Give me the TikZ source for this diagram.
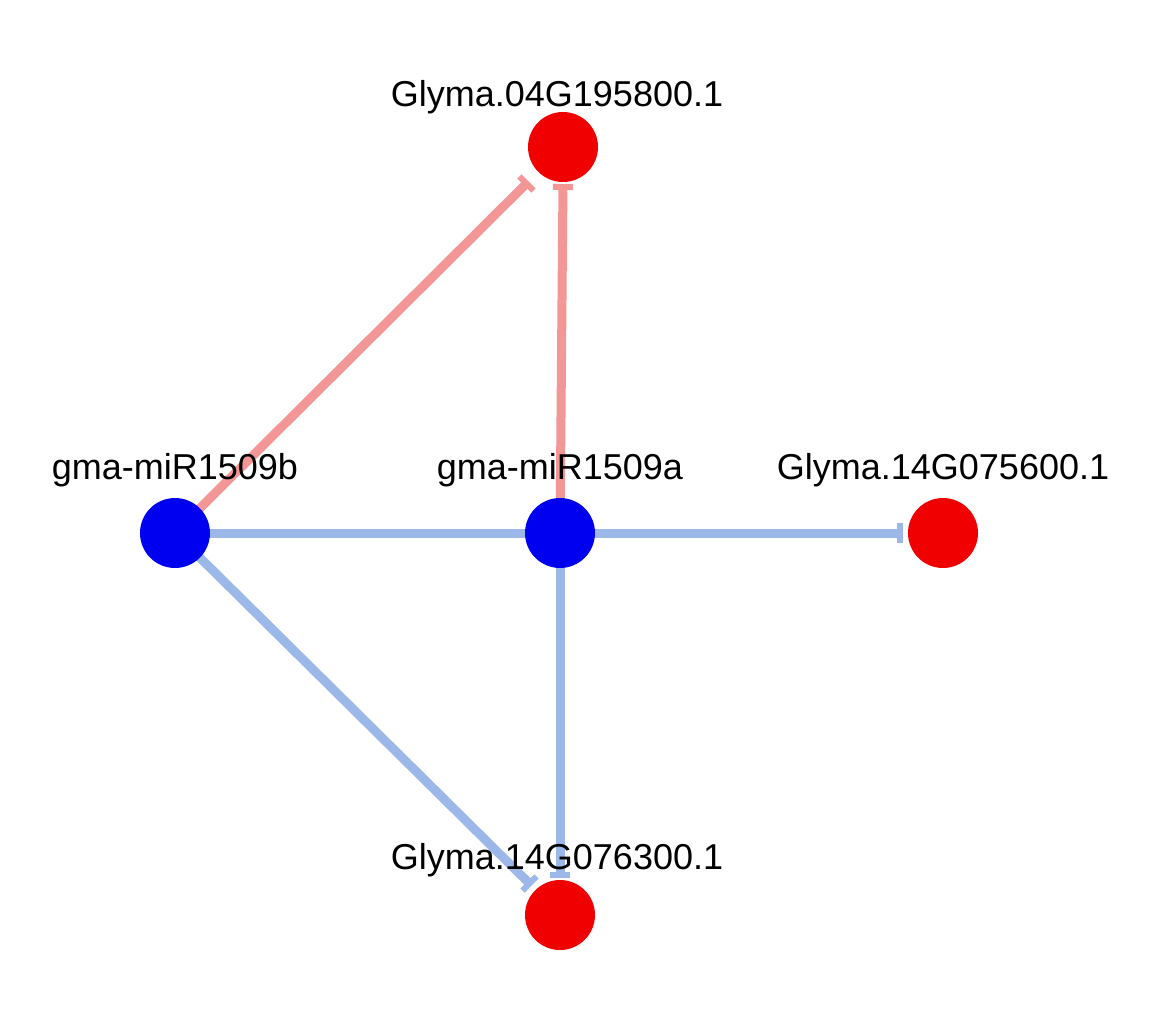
\documentclass[tikz,border=0pt]{standalone}
\usepackage{fontspec}
\setmainfont{Liberation Sans}
\usetikzlibrary{arrows.meta}
\begin{document}
\begin{tikzpicture}[x=1pt,y=-1pt,
  mi/.style={circle,fill={rgb,255:red,0;green,0;blue,240},minimum size=70pt,inner sep=0pt},
  tg/.style={circle,fill={rgb,255:red,240;green,0;blue,0},minimum size=70pt,inner sep=0pt},
  lab/.style={font=\fontsize{36}{40}\selectfont},
  posedge/.style={line width=9pt,draw={rgb,255:red,242;green,150;blue,150},-{Bar[width=20pt,line width=6pt]},shorten >=2pt},
  negedge/.style={line width=9pt,draw={rgb,255:red,155;green,184;blue,232},-{Bar[width=20pt,line width=6pt]},shorten >=2pt}]
\useasboundingbox (0,0) rectangle (1158,1012);
\draw[negedge,-] (175,533) -- (560,533);
\draw[posedge] (175,533) -- (530,180);
\draw[posedge] (560,533) -- (563,182);
\draw[negedge] (560,533) -- (905,533);
\draw[negedge] (175,533) -- (533,887);
\draw[negedge] (560,533) -- (560,880);
\node[tg] (t1) at (563,147) {};
\node[mi] (b) at (175,533) {};
\node[mi] (a) at (560,533) {};
\node[tg] (t2) at (943,533) {};
\node[tg] (t3) at (560,915) {};
\node[lab] (l1) at (557,97) {Glyma.04G195800.1};
\node[lab] (lb) at (175,470) {gma-miR1509b};
\node[lab] (la) at (560,470) {gma-miR1509a};
\node[lab] (l2) at (943,470) {Glyma.14G075600.1};
\node[lab] (l3) at (557,860) {Glyma.14G076300.1};
\end{tikzpicture}
\end{document}
